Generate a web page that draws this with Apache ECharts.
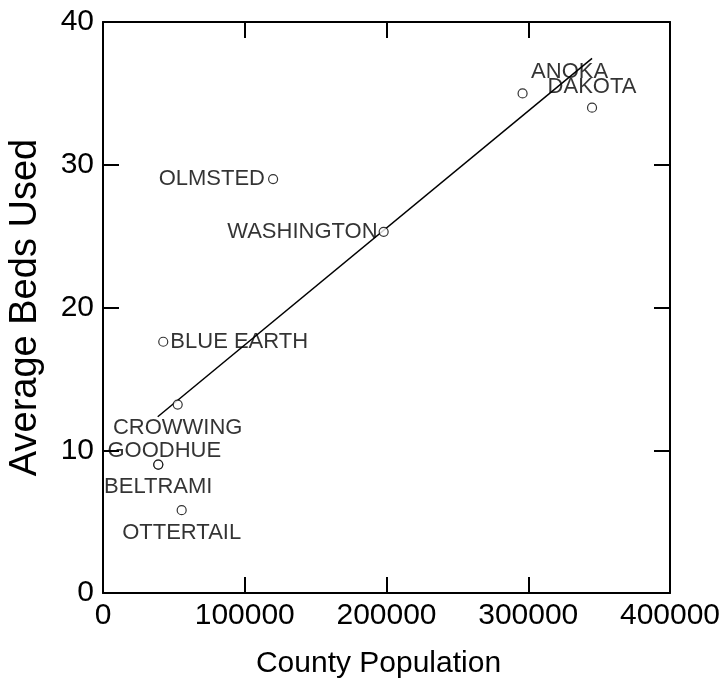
<!DOCTYPE html>
<html>
<head>
<meta charset="utf-8">
<style>html,body{margin:0;padding:0;background:#fff}#c{width:728px;height:683px}</style>
<script src="https://cdn.jsdelivr.net/npm/echarts@6/dist/echarts.min.js"></script>
</head>
<body>
<div id="c"></div>
<script>
// ---- data ----
const counties = ['ANOKA','DAKOTA','OLMSTED','WASHINGTON','BLUE EARTH','CROWWING','GOODHUE','BELTRAMI','OTTERTAIL'];
const population = [296000, 345000, 120000, 198000, 42500, 52700, 39000, 39000, 55500];
const bedsUsed = [35.0, 34.0, 29.0, 25.3, 17.6, 13.2, 9.0, 9.0, 5.8];
const fitX = [38600, 345000];
const fitY = [12.35, 37.45];
const xTicks = [0, 100000, 200000, 300000, 400000];
const yTicks = [0, 10, 20, 30, 40];

// ---- label placement (style) ----
const labelStyle = {
  'ANOKA': {position:'inside', offset:[47,-21]},
  'DAKOTA': {position:'inside', offset:[0,-21]},
  'OLMSTED': {position:'left', distance:3},
  'WASHINGTON': {position:'left', distance:1},
  'BLUE EARTH': {position:'right', distance:2},
  'CROWWING': {position:'inside', offset:[0,23]},
  'GOODHUE': {position:'inside', offset:[6,-14]},
  'BELTRAMI': {position:'inside', offset:[0,22]},
  'OTTERTAIL': {position:'inside', offset:[0,23]}
};

const FONT = '"Liberation Sans", Arial, Helvetica, sans-serif';
const pts = counties.map((n,i)=>({
  name:n, value:[population[i], bedsUsed[i]],
  label:Object.assign({show:true, formatter:n, color:'#000', fontSize:22, fontFamily:FONT}, labelStyle[n])
}));

const axisCommon = {
  axisLine:{show:true, onZero:false, lineStyle:{color:'#000', width:2}},
  axisTick:{show:true, inside:true, length:16, lineStyle:{color:'#000', width:2}},
  splitLine:{show:false}
};
const fmt = v => String(v);

const chart = echarts.init(document.getElementById('c'), null, {renderer:'canvas'});
chart.setOption({
  backgroundColor:'#fff',
  animation:false,
  grid:{left:103, right:58, top:22, bottom:90, containLabel:false, outerBoundsMode:'none'},
  xAxis:[
    Object.assign({type:'value', min:xTicks[0], max:xTicks[xTicks.length-1], interval:xTicks[1]-xTicks[0],
      position:'bottom', name:'County Population', nameLocation:'middle', nameGap:56,
      nameTextStyle:{color:'#000', fontSize:30, fontFamily:FONT, padding:[0,16,0,0]},
      axisLabel:{color:'#000', fontSize:30, fontFamily:FONT, margin:8, formatter:fmt}}, axisCommon),
    Object.assign({type:'value', min:xTicks[0], max:xTicks[xTicks.length-1], interval:xTicks[1]-xTicks[0],
      position:'top', axisLabel:{show:false}}, axisCommon)
  ],
  yAxis:[
    Object.assign({type:'value', min:yTicks[0], max:yTicks[yTicks.length-1], interval:yTicks[1]-yTicks[0],
      position:'left', name:'Average Beds Used', nameLocation:'middle', nameGap:58,
      nameTextStyle:{color:'#000', fontSize:38, fontFamily:FONT},
      axisLabel:{color:'#000', fontSize:30, fontFamily:FONT, margin:9, formatter:fmt}}, axisCommon),
    Object.assign({type:'value', min:yTicks[0], max:yTicks[yTicks.length-1], interval:yTicks[1]-yTicks[0],
      position:'right', axisLabel:{show:false}}, axisCommon)
  ],
  series:[
    {type:'line', data:fitX.map((x,i)=>[x, fitY[i]]), symbol:'none',
     lineStyle:{color:'#000', width:1.5}, silent:true, z:2},
    {type:'scatter', data:pts, symbol:'circle', symbolSize:9,
     itemStyle:{color:'#fff', borderColor:'#000', borderWidth:1.2}, z:3}
  ]
});
</script>
</body>
</html>
